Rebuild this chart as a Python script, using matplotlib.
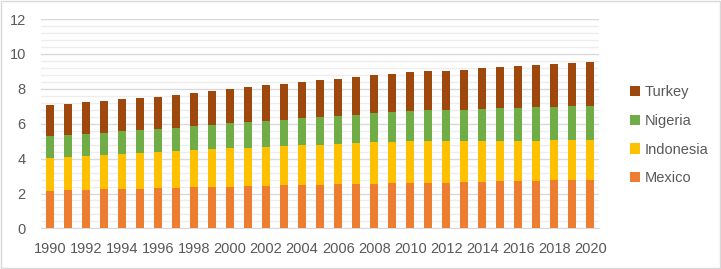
import matplotlib.pyplot as plt
import matplotlib.ticker as ticker
from matplotlib.patches import Rectangle
import numpy as np

plt.rcParams['font.family'] = ['Liberation Sans', 'DejaVu Sans']

years = list(range(1990, 2021))
mexico = [2.14, 2.18, 2.22, 2.24, 2.25, 2.27, 2.31, 2.33, 2.35, 2.37, 2.39,
          2.42, 2.45, 2.47, 2.48, 2.50, 2.52, 2.55, 2.56, 2.58, 2.60,
          2.62, 2.63, 2.66, 2.68, 2.69, 2.71, 2.73, 2.75, 2.77, 2.79]
indonesia = [1.91, 1.93, 1.95, 1.98, 2.01, 2.05, 2.07, 2.10, 2.14, 2.16, 2.22,
             2.20, 2.23, 2.25, 2.28, 2.30, 2.33, 2.34, 2.37, 2.39, 2.41,
             2.39, 2.38, 2.35, 2.35, 2.34, 2.32, 2.30, 2.30, 2.28, 2.28]
nigeria = [1.24, 1.22, 1.24, 1.26, 1.30, 1.32, 1.33, 1.34, 1.38, 1.41, 1.41,
           1.47, 1.47, 1.51, 1.55, 1.58, 1.61, 1.63, 1.66, 1.70, 1.72,
           1.75, 1.77, 1.80, 1.83, 1.85, 1.89, 1.91, 1.91, 1.94, 1.94]
turkey = [1.76, 1.80, 1.81, 1.84, 1.84, 1.83, 1.84, 1.87, 1.89, 1.95, 1.97,
          1.99, 2.05, 2.04, 2.08, 2.10, 2.10, 2.14, 2.18, 2.18, 2.21,
          2.24, 2.26, 2.29, 2.31, 2.35, 2.37, 2.41, 2.46, 2.51, 2.55]

series = [("Mexico", mexico, "#ED7D31"),
          ("Indonesia", indonesia, "#FFC000"),
          ("Nigeria", nigeria, "#70AD47"),
          ("Turkey", turkey, "#9E480E")]

fig = plt.figure(figsize=(7.21, 2.69), dpi=100)
ax = fig.add_axes([0.057, 0.151, 0.774, 0.778])

x = np.arange(len(years))
bottom = np.zeros(len(years))
handles = []
for name, vals, col in series:
    b = ax.bar(x, vals, width=0.45, bottom=bottom, color=col, label=name, zorder=3)
    handles.append(b)
    bottom += np.array(vals)

ax.set_xlim(-0.5, len(years) - 0.5)
ax.set_ylim(0, 12)
ax.yaxis.set_major_locator(ticker.MultipleLocator(2))
ax.yaxis.set_minor_locator(ticker.MultipleLocator(0.4))
ax.grid(which='major', axis='y', color='#D9D9D9', linewidth=1, zorder=0)
ax.grid(which='minor', axis='y', color='#EDEDED', linewidth=1, zorder=0)

ax.set_xticks(x[::2])
ax.set_xticklabels([str(y) for y in years[::2]])
ax.tick_params(axis='both', which='both', length=0, labelsize=10.5, colors='#595959')
ax.tick_params(axis='x', pad=10)
ax.tick_params(axis='y', pad=11)
for s in ['top', 'right', 'left']:
    ax.spines[s].set_visible(False)
ax.spines['bottom'].set_color('#D9D9D9')

leg = fig.legend(handles[::-1], [s[0] for s in series][::-1], loc='center left',
                 bbox_to_anchor=(0.855, 0.497), frameon=False, fontsize=10.5,
                 labelspacing=1.0, handlelength=0.7, handleheight=0.7,
                 handletextpad=0.35)
for t in leg.get_texts():
    t.set_color('#595959')

fig.patches.append(Rectangle((0.001, 0.002), 0.997, 0.995, transform=fig.transFigure,
                             fill=False, edgecolor='#D9D9D9', linewidth=1))

fig.savefig('out.png', dpi=100)
